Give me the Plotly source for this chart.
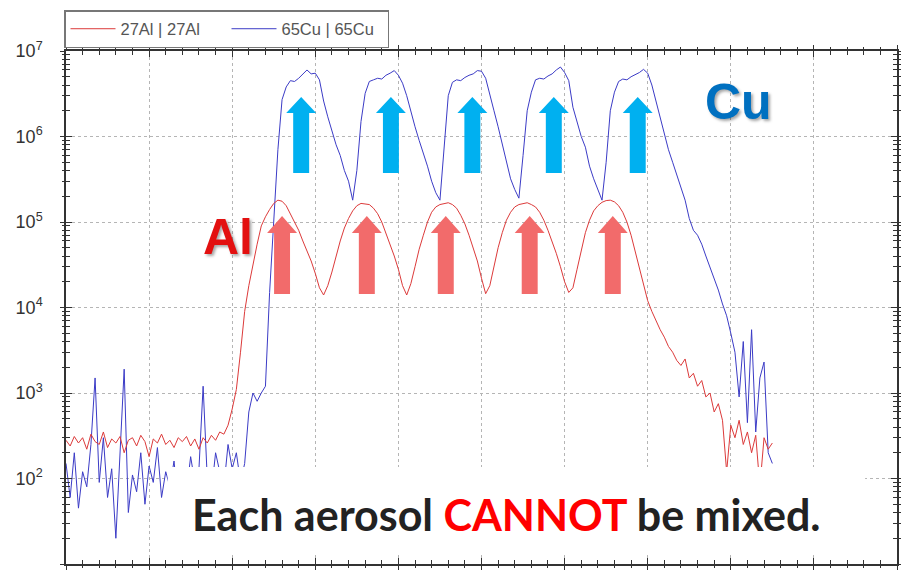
import numpy as np
import plotly.graph_objects as go

# ---------------- data ----------------
time = np.round(np.arange(0, 8.5001, 0.05), 2)

al27 = [
    280, 240, 310, 260, 300, 220, 330, 270, 250, 350,
    230, 290, 260, 310, 200, 280, 300, 240, 320, 270,
    180, 290, 260, 330, 250, 280, 230, 300, 270, 310,
    240, 290, 220, 300, 260, 320, 280, 350, 330, 420,
    650, 1100, 3000, 9000, 18000, 32000, 55000, 90000, 115000, 140000,
    165000, 180000, 175000, 155000, 125000, 100000, 80000, 60000, 46000, 35000,
    25000, 17000, 14000, 18000, 26000, 40000, 60000, 85000, 110000, 135000,
    155000, 165000, 162000, 160000, 145000, 125000, 100000, 75000, 55000, 40000,
    28000, 18000, 14000, 19000, 30000, 48000, 70000, 100000, 130000, 150000,
    160000, 165000, 168000, 160000, 145000, 120000, 95000, 70000, 50000, 35000,
    22000, 14500, 18000, 30000, 50000, 75000, 105000, 130000, 150000, 160000,
    165000, 168000, 160000, 150000, 130000, 105000, 80000, 60000, 43000, 30000,
    20000, 15000, 17000, 28000, 48000, 75000, 105000, 135000, 155000, 170000,
    178000, 180000, 172000, 155000, 130000, 100000, 70000, 45000, 28000, 18000,
    12000, 9000, 7000, 5500, 4500, 3500, 3000, 2400, 2100, 2500,
    1500, 1700, 1200, 1400, 900, 1000, 600, 750, 480, 120,
    420, 300, 480, 250, 350, 200, 320, 80, 300, 220,
    260,
]

cu65 = [
    150, 60, 200, 45, 120, 80, 250, 1500, 90, 300,
    60, 130, 20, 180, 1900, 40, 110, 70, 200, 50,
    140, 90, 230, 60, 120, 80, 160, 50, 110, 70,
    180, 90, 130, 1200, 100, 70, 200, 120, 80, 250,
    130, 200, 90, 150, 600, 1000, 800, 1000, 1200, 15000,
    90000, 700000, 2700000, 3800000, 4500000, 4400000, 4800000, 5300000, 6000000, 5400000,
    5500000, 4600000, 2600000, 1700000, 1150000, 800000, 600000, 400000, 300000, 180000,
    400000, 1500000, 3200000, 4400000, 4600000, 4800000, 4700000, 5200000, 5500000, 5900000,
    5200000, 4200000, 3000000, 1900000, 1300000, 900000, 650000, 450000, 300000, 220000,
    180000, 800000, 3000000, 4300000, 4600000, 4500000, 4900000, 5200000, 5400000, 5900000,
    5800000, 4800000, 3200000, 2000000, 1300000, 800000, 500000, 320000, 240000, 190000,
    600000, 2000000, 3300000, 4600000, 4800000, 4700000, 5100000, 5400000, 6000000, 6500000,
    5600000, 4500000, 2200000, 1500000, 1000000, 750000, 450000, 320000, 240000, 180000,
    500000, 2000000, 3300000, 4400000, 4700000, 4600000, 5000000, 5300000, 5600000, 6100000,
    5500000, 4000000, 2600000, 1600000, 1100000, 700000, 500000, 350000, 260000, 180000,
    110000, 80000, 70000, 55000, 40000, 30000, 22000, 16000, 11000, 8000,
    5000, 3000, 900, 4000, 450, 5500, 350, 1500, 2300, 200,
    150,
]

series_names = ["27Al | 27Al", "65Cu | 65Cu"]
ytick_vals = [10, 100, 1000, 10000, 100000, 1000000, 10000000]
ytick_text = ["10<sup>1</sup>", "10<sup>2</sup>", "10<sup>3</sup>", "10<sup>4</sup>",
              "10<sup>5</sup>", "10<sup>6</sup>", "10<sup>7</sup>"]

# annotation arrow positions (x in data units)
cu_arrow_x = [2.83, 3.91, 4.89, 5.87, 6.88]
al_arrow_x = [2.60, 3.62, 4.57, 5.58, 6.58]

# ---------------- figure ----------------
W, H = 901, 574
ML, MR, MT, MB = 66, 2, 51, 10
PH = H - MT - MB
PW = W - ML - MR
XR = [0, 10]


def py(p):  # pixel y -> paper
    return (H - MB - p) / PH


def px(p):  # pixel x -> paper
    return (p - ML) / PW


fig = go.Figure()
fig.add_trace(go.Scatter(x=time, y=cu65, mode="lines", name=series_names[1],
                         line=dict(color="#3b3bc6", width=1), legendrank=2))
fig.add_trace(go.Scatter(x=time, y=al27, mode="lines", name=series_names[0],
                         line=dict(color="#dc3a3a", width=1), legendrank=1))
# overlay axes for outward tick marks
fig.add_trace(go.Scatter(x=[], y=[], xaxis="x2", yaxis="y2", showlegend=False,
                         hoverinfo="skip"))

shapes = []
ux = (XR[1] - XR[0]) / PW  # data units per px


def arrow(cx, top, headb, bottom, color):
    hw = 15 * ux
    sw = 8 * ux
    yt, yh, yb = py(top), py(headb), py(bottom)
    path = (f"M{cx},{yt} L{cx + hw},{yh} L{cx + sw},{yh} L{cx + sw},{yb} "
            f"L{cx - sw},{yb} L{cx - sw},{yh} L{cx - hw},{yh} Z")
    return dict(type="path", path=path, xref="x", yref="paper",
                fillcolor=color, line=dict(width=0), layer="above")


for cx in cu_arrow_x:
    shapes.append(arrow(cx, 97, 113, 173, "#00b0f0"))
for cx in al_arrow_x:
    shapes.append(arrow(cx, 216, 233, 294, "#f26b6b"))

# white box
shapes.append(dict(type="rect", xref="paper", yref="paper",
                   x0=px(168), x1=px(867), y0=py(552), y1=py(467),
                   fillcolor="white", line=dict(width=0), layer="above"))

annotations = [
    dict(text="<b>Cu</b>", x=px(740), y=py(102), xref="paper", yref="paper",
         showarrow=False, xanchor="center", yanchor="middle",
         font=dict(family="Liberation Sans, Arial", size=50, color="#0070c0",
                   shadow="2px 2px 3px rgba(0,0,0,0.35)")),
    dict(text="<b>Al</b>", x=px(228), y=py(237), xref="paper", yref="paper",
         showarrow=False, xanchor="center", yanchor="middle",
         font=dict(family="Liberation Sans, Arial", size=50, color="#e31010",
                   shadow="2px 2px 3px rgba(0,0,0,0.35)")),
    dict(text="<b>Each aerosol <span style='color:#ff0000'>CANNOT</span> be mixed.</b>",
         x=px(508), y=py(514), xref="paper", yref="paper",
         showarrow=False, xanchor="center", yanchor="middle",
         font=dict(family="Lato", size=43, color="#222222")),
]

axis_common = dict(showline=True, linecolor="#333333", linewidth=1.5, mirror="ticks",
                   ticks="inside", tickcolor="#333333", ticklen=6, tickwidth=1)

fig.update_layout(
    width=W, height=H,
    margin=dict(l=ML, r=MR, t=MT, b=MB, pad=0),
    paper_bgcolor="white", plot_bgcolor="white",
    shapes=shapes, annotations=annotations,
    showlegend=True,
    legend=dict(orientation="h", x=px(64), y=(H - MB - 10) / PH,
                xanchor="left", yanchor="top",
                bordercolor="#777777", borderwidth=1.5, bgcolor="white",
                font=dict(family="Liberation Sans, Arial", size=16.5, color="#555555"),
                entrywidth=101, itemwidth=45, tracegroupgap=0),
    xaxis=dict(range=XR, dtick=1, tick0=0, showticklabels=False,
               showgrid=True, gridcolor="#b5b5b5", griddash="dot", gridwidth=1,
               zeroline=False,
               minor=dict(dtick=0.2, ticks="inside", ticklen=4, tickcolor="#333333",
                          showgrid=False),
               **axis_common),
    yaxis=dict(type="log", range=[1, 7], tickvals=ytick_vals, ticktext=ytick_text,
               showgrid=True, gridcolor="#b5b5b5", griddash="dot", gridwidth=1,
               zeroline=False, ticklabelstandoff=18,
               tickfont=dict(family="Liberation Sans, Arial", size=18, color="#333333"),
               minor=dict(dtick="D1", ticks="inside", ticklen=4, tickcolor="#333333",
                          showgrid=False),
               **axis_common),
    xaxis2=dict(overlaying="x", anchor="y", range=XR, dtick=1, tick0=0,
                showticklabels=False, showgrid=False, zeroline=False, showline=False,
                ticks="outside", ticklen=5, tickcolor="#333333", mirror="ticks",
                minor=dict(dtick=0.2, ticks="outside", ticklen=3, tickcolor="#333333")),
    yaxis2=dict(overlaying="y", anchor="x", type="log", range=[1, 7],
                tickvals=ytick_vals, showticklabels=False, showgrid=False,
                zeroline=False, showline=False, ticks="outside", ticklen=5,
                tickcolor="#333333", mirror="ticks",
                minor=dict(dtick="D1", ticks="outside", ticklen=3, tickcolor="#333333")),
)

fig.write_html("out.html")
